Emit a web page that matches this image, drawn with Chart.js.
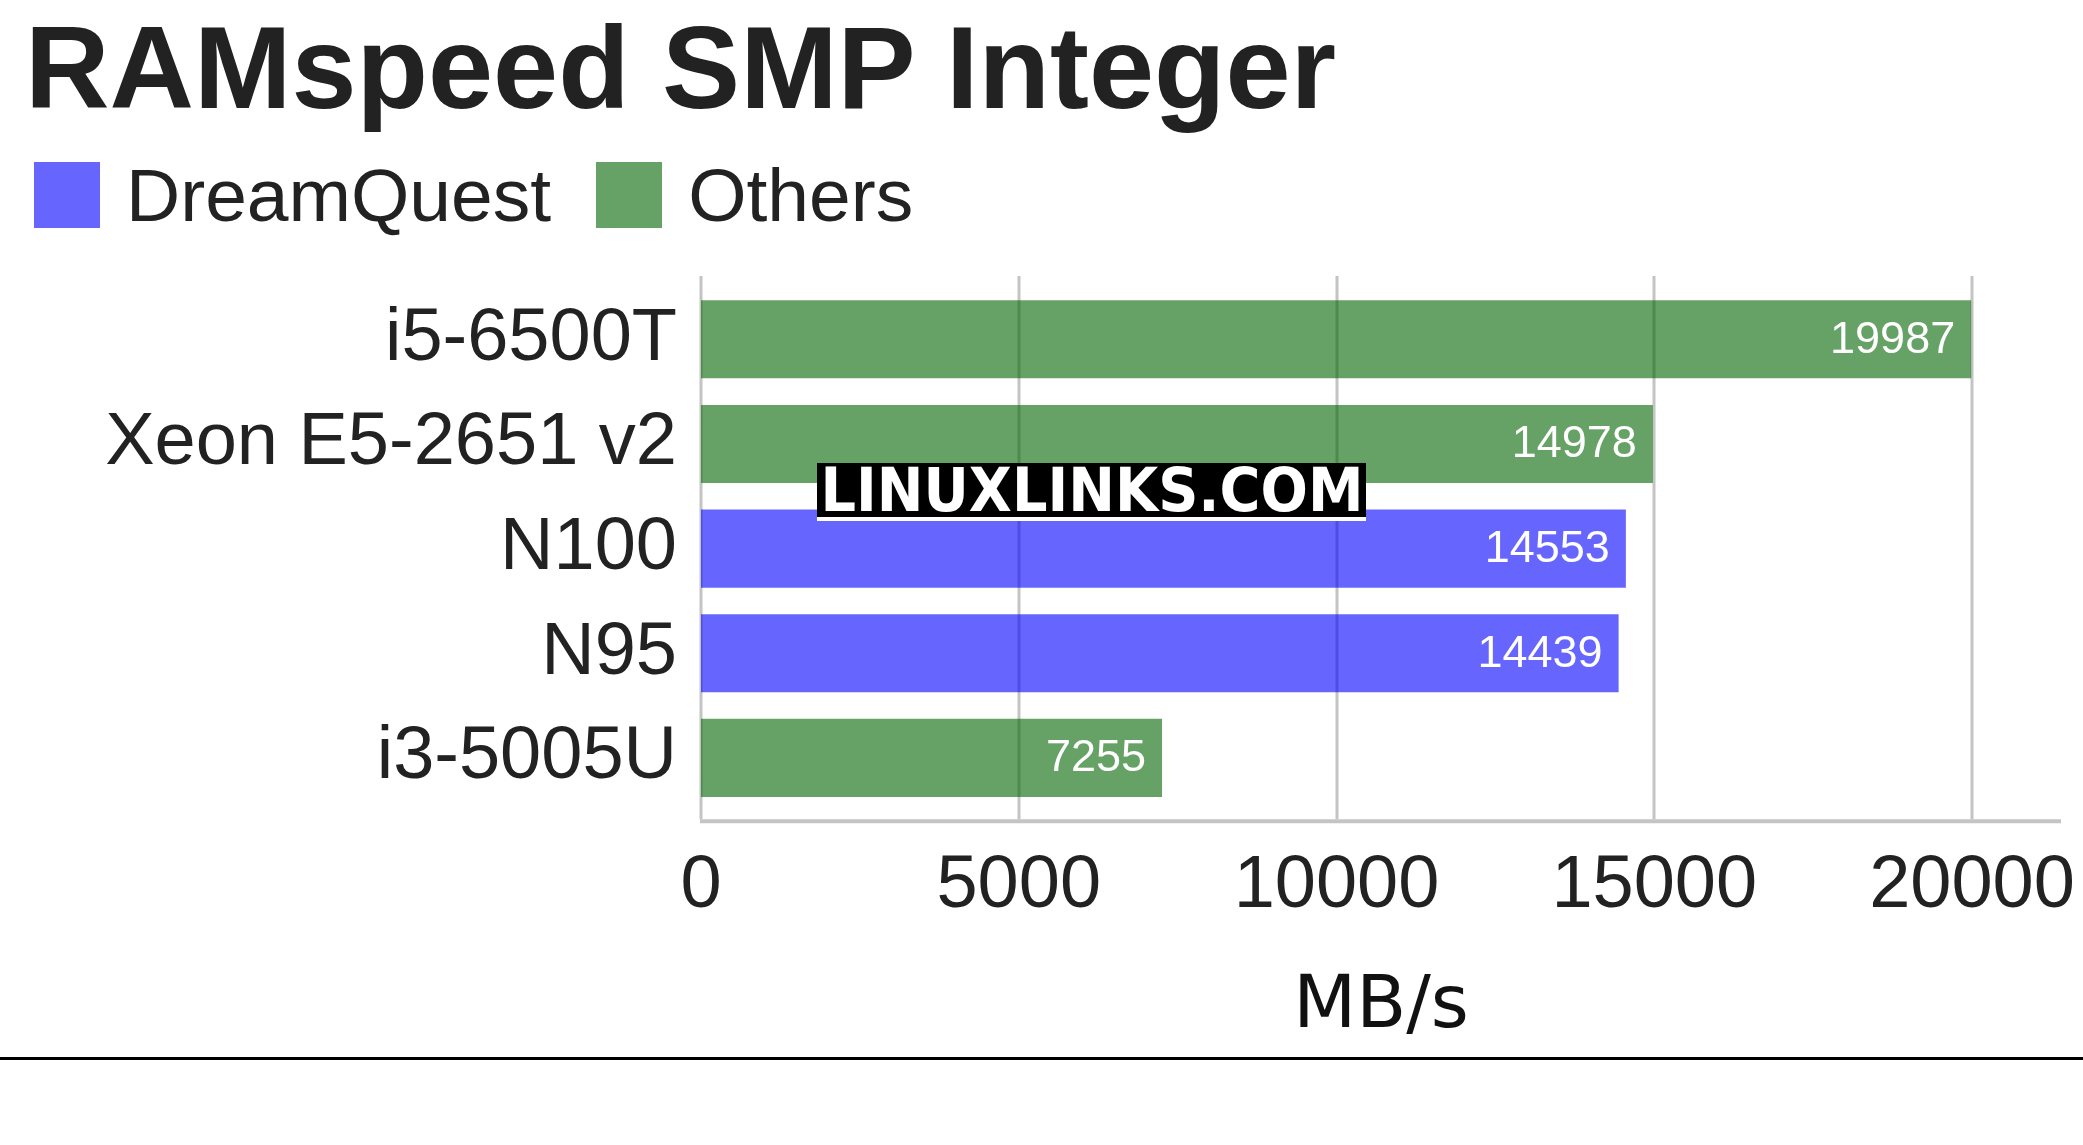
<!DOCTYPE html>
<html><head><meta charset="utf-8">
<script src="https://cdn.jsdelivr.net/npm/chart.js@4/dist/chart.umd.min.js"></script>
<style>
html,body{margin:0;padding:0;background:#fff;width:2083px;height:1145px;overflow:hidden;}
#wrap{position:absolute;left:0;top:0;width:2083px;height:1145px;}
canvas{position:absolute;left:0;top:0;}
#title{position:absolute;left:25px;top:9px;font:bold 117px/117px "Liberation Sans",Arial,sans-serif;color:#222;white-space:nowrap;}
#legend{position:absolute;left:34px;top:162px;display:flex;align-items:center;height:66px;}
.lg-box{width:66px;height:66px;flex:none;}
.lg-text{font:75px/75px "Liberation Sans",Arial,sans-serif;color:#222;margin-left:26px;margin-right:45px;white-space:nowrap;}
#wm{position:absolute;left:817px;top:463px;width:549px;height:54px;background:#000;border-bottom:4px solid #fff;overflow:hidden;}
#wm span{position:absolute;left:50%;top:0;transform:translateX(-50%) scaleX(0.93);color:#fff;font:bold 60px/54px "DejaVu Sans",sans-serif;white-space:nowrap;}
#rule{position:absolute;left:0;top:1057px;width:2083px;height:3px;background:#000;}
</style>
</head>
<body>
<div id="wrap">
<canvas id="c" width="2083" height="1145" style="width:2083px;height:1145px"></canvas>
<div id="title"></div>
<div id="legend"></div>
<div id="wm"><span></span></div>
<div id="rule"></div>
</div>
<script>
const chartTitle = "RAMspeed SMP Integer";
const categories = ["i5-6500T", "Xeon E5-2651 v2", "N100", "N95", "i3-5005U"];
const seriesNames = ["DreamQuest", "Others"];
const dreamQuestValues = [null, null, 14553, 14439, null];
const othersValues = [19987, 14978, null, null, 7255];
const xTicks = [0, 5000, 10000, 15000, 20000];
const xAxisTitle = "MB/s";
const watermarkText = "LINUXLINKS.COM";

const seriesColors = ["rgba(0,0,255,0.6)", "rgba(0,100,0,0.6)"];

document.getElementById('title').textContent = chartTitle;
document.querySelector('#wm span').textContent = watermarkText;

const gridPlugin = {
  id: 'extGrid',
  beforeDatasetsDraw(chart) {
    const {ctx, chartArea: a, scales: {x}} = chart;
    ctx.save();
    ctx.strokeStyle = '#c4c4c4';
    ctx.lineWidth = 3;
    x.ticks.forEach(t => {
      const px = Math.round(x.getPixelForValue(t.value));
      ctx.beginPath();
      ctx.moveTo(px, a.top - 11);
      ctx.lineTo(px, a.bottom + 9);
      ctx.stroke();
    });
    ctx.lineWidth = 4;
    ctx.beginPath();
    ctx.moveTo(a.left - 1, a.bottom + 11);
    ctx.lineTo(a.right, a.bottom + 11);
    ctx.stroke();
    ctx.restore();
  }
};

const labelPlugin = {
  id: 'valLabels',
  afterDatasetsDraw(chart) {
    const ctx = chart.ctx;
    ctx.save();
    ctx.fillStyle = '#fff';
    ctx.font = '45px "Liberation Sans", Arial, sans-serif';
    ctx.textAlign = 'right';
    ctx.textBaseline = 'middle';
    chart.data.datasets.forEach((ds, di) => {
      const meta = chart.getDatasetMeta(di);
      meta.data.forEach((el, i) => {
        const v = ds.data[i];
        if (v === null || v === undefined) return;
        ctx.fillText(String(v), el.x - 16, el.y + 1);
      });
    });
    ctx.restore();
  }
};

const chart = new Chart(document.getElementById('c'), {
  type: 'bar',
  data: {
    labels: categories,
    datasets: [
      {label: seriesNames[0], data: dreamQuestValues, backgroundColor: seriesColors[0], borderWidth: 0},
      {label: seriesNames[1], data: othersValues, backgroundColor: seriesColors[1], borderWidth: 0}
    ]
  },
  options: {
    indexAxis: 'y',
    responsive: false,
    animation: false,
    devicePixelRatio: 1,
    layout: {padding: {top: 287, left: 0, right: 22, bottom: 100}},
    plugins: {legend: {display: false}, title: {display: false}, tooltip: {enabled: false}},
    datasets: {bar: {grouped: false, barPercentage: 0.746, categoryPercentage: 1, skipNull: true}},
    scales: {
      x: {
        type: 'linear', min: 0, max: 21400,
        afterBuildTicks: s => { s.ticks = xTicks.map(v => ({value: v})); },
        afterFit: s => { s.paddingRight = 0; s.paddingLeft = 0; },
        ticks: {padding: 32, color: '#222', font: {family: '"Liberation Sans", Arial, sans-serif', size: 74},
          callback: v => String(v)},
        grid: {display: false, drawTicks: false},
        border: {display: false},
        title: {display: true, text: xAxisTitle, color: '#111',
          font: {family: '"DejaVu Sans", sans-serif', size: 73, lineHeight: 1},
          padding: {top: 9, bottom: 0}}
      },
      y: {
        ticks: {padding: 24, color: '#222', font: {family: '"Liberation Sans", Arial, sans-serif', size: 74}},
        grid: {display: false, drawTicks: false},
        border: {display: false},
        afterFit: s => { s.width = 701; }
      }
    }
  },
  plugins: [gridPlugin, labelPlugin]
});

const legend = document.getElementById('legend');
chart.data.datasets.forEach(ds => {
  const b = document.createElement('div');
  b.className = 'lg-box';
  b.style.background = ds.backgroundColor;
  const t = document.createElement('div');
  t.className = 'lg-text';
  t.textContent = ds.label;
  legend.appendChild(b);
  legend.appendChild(t);
});
</script>
</body></html>
